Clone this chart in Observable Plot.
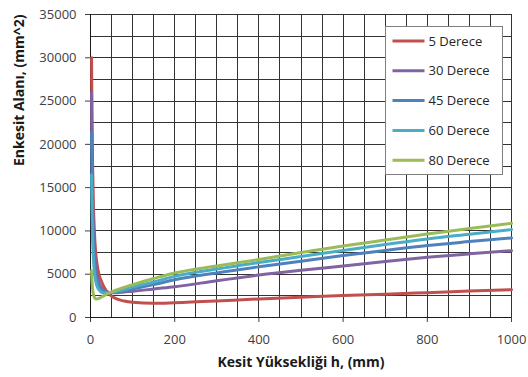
<!DOCTYPE html>
<html>
<head>
<meta charset="utf-8">
<script src="https://cdn.jsdelivr.net/npm/d3@7"></script>
<script src="https://cdn.jsdelivr.net/npm/@observablehq/plot@0.6"></script>
<style>
  html, body { margin: 0; padding: 0; background: #fff; overflow: hidden; }
  #chart { width: 528px; height: 377px; }
  #chart svg { max-width: none !important; }
</style>
</head>
<body>
<div id="chart"></div>
<script>
// Series names (legend order) and Excel-style colours
const seriesNames = ["5 Derece", "30 Derece", "45 Derece", "60 Derece", "80 Derece"];
const seriesColors = ["#C0504D", "#8064A2", "#4F81BD", "#4BACC6", "#9BBB59"];

// Section height h (mm) and cross-section area (mm^2) per angle
const h5  = [2.5, 3.5, 5, 7, 9, 12, 16, 20, 26, 37, 55, 80, 100, 150, 200, 300, 400, 500, 600, 700, 800, 900, 1000];
const a5  = [30000, 23500, 17500, 12800, 10200, 7700, 6000, 5000, 4150, 3100, 2300, 1900, 1750, 1640, 1700, 1900, 2150, 2350, 2550, 2700, 2870, 3050, 3206];

const h30 = [2.5, 3.5, 5, 7, 10, 15, 20, 25, 30, 40, 50, 60, 80, 100, 150, 200, 300, 400, 500, 600, 700, 800, 900, 1000];
const a30 = [26000, 19500, 14000, 10200, 7200, 5000, 4000, 3500, 3200, 2950, 2850, 2850, 2950, 3030, 3300, 3550, 4250, 4900, 5450, 5950, 6480, 6950, 7350, 7720];

const h45 = [2.5, 3.5, 5, 7, 10, 15, 20, 25, 30, 40, 50, 60, 80, 100, 150, 200, 300, 400, 500, 600, 700, 800, 900, 1000];
const a45 = [21400, 16000, 11500, 8500, 6100, 4400, 3700, 3300, 3100, 2900, 2900, 2950, 3100, 3300, 3800, 4350, 5150, 5850, 6500, 7150, 7750, 8320, 8770, 9190];

const h60 = [2.5, 3.5, 5, 7, 10, 15, 20, 25, 30, 40, 50, 60, 80, 100, 150, 200, 300, 400, 500, 600, 700, 800, 900, 1000];
const a60 = [16500, 12500, 9000, 6700, 4900, 3700, 3200, 2950, 2850, 2800, 2900, 3000, 3250, 3520, 4100, 4750, 5600, 6350, 7050, 7750, 8430, 9080, 9620, 10150];

const h80 = [2.5, 3.5, 5, 7, 10, 14, 20, 25, 30, 40, 50, 60, 80, 100, 150, 200, 300, 400, 500, 600, 700, 800, 900, 1000];
const a80 = [5400, 4300, 3300, 2650, 2250, 2130, 2200, 2330, 2470, 2720, 2950, 3150, 3480, 3800, 4500, 5150, 5950, 6700, 7500, 8250, 8950, 9650, 10280, 10880];

// Axis ticks and grid
const xTicks = [0, 200, 400, 600, 800, 1000];
const yTicks = [0, 5000, 10000, 15000, 20000, 25000, 30000, 35000];
const xGrid = [50, 100, 150, 200, 250, 300, 350, 400, 450, 500, 550, 600, 650, 700, 750, 800, 850, 900, 950, 1000];
const yGrid = [2500, 5000, 7500, 10000, 12500, 15000, 17500, 20000, 22500, 25000, 27500, 30000, 32500, 35000];

const xTitle = "Kesit Yüksekliği h, (mm)";
const yTitle = "Enkesit Alanı, (mm^2)";

const seriesData = [[h5, a5], [h30, a30], [h45, a45], [h60, a60], [h80, a80]];
const rows = seriesData.flatMap(([hs, as], i) =>
  hs.map((h, j) => ({ seri: seriesNames[i], h, a: as[j] }))
);

const font = "'Open Sans', 'Liberation Sans', sans-serif";
const gridStyle = { stroke: "#333333", strokeWidth: 1, strokeOpacity: 1, shapeRendering: "crispEdges" };

const plot = Plot.plot({
  width: 528,
  height: 377,
  marginLeft: 90,
  marginRight: 17,
  marginTop: 14,
  marginBottom: 60,
  style: { fontFamily: font, fontSize: "13px", color: "#404040", background: "#fff" },
  x: { domain: [0, 1000], ticks: xTicks, tickSize: 5, tickPadding: 12, tickFormat: d => String(d), label: null },
  y: { domain: [0, 35000], ticks: yTicks, tickSize: 5, tickPadding: 9, tickFormat: d => String(d), label: null },
  color: { domain: seriesNames, range: seriesColors },
  marks: [
    // fine grid every 50 mm and every 2500 mm^2
    Plot.ruleX(xGrid, { x: d => d, ...gridStyle }),
    Plot.ruleY(yGrid, { y: d => d, ...gridStyle }),
    // axis lines
    Plot.ruleX([0], { stroke: "#1a1a1a", strokeWidth: 1, shapeRendering: "crispEdges" }),
    Plot.ruleY([0], { stroke: "#1a1a1a", strokeWidth: 1, shapeRendering: "crispEdges" }),
    // one curve per angle
    Plot.line(rows, { x: "h", y: "a", z: "seri", stroke: "seri", strokeWidth: 3, curve: "monotone-x" }),
    // axis titles
    Plot.text([xTitle], { frameAnchor: "bottom", dy: 49, fontWeight: "bold", fontSize: 14, fill: "#1a1a1a" }),
    Plot.text([yTitle], { frameAnchor: "left", dx: -71, rotate: -90, fontWeight: "bold", fontSize: 14, fill: "#1a1a1a" })
  ]
});

// Legend box in the upper right of the plot area
const svg = d3.select(plot);
const legend = svg.append("g").attr("transform", "translate(385.5,26.5)");
legend.append("rect")
  .attr("width", 117).attr("height", 148)
  .attr("fill", "#fff").attr("stroke", "#7f7f7f").attr("stroke-width", 1);
seriesNames.forEach((name, i) => {
  const y = 14.5 + i * 29.8;
  legend.append("line")
    .attr("x1", 7).attr("x2", 39).attr("y1", y).attr("y2", y)
    .attr("stroke", seriesColors[i]).attr("stroke-width", 3);
  legend.append("text")
    .attr("x", 43).attr("y", y).attr("dy", "0.35em")
    .attr("text-anchor", "start")
    .attr("fill", "#262626").attr("font-size", 13).attr("font-family", font)
    .text(name);
});

document.getElementById("chart").appendChild(plot);
</script>
</body>
</html>
